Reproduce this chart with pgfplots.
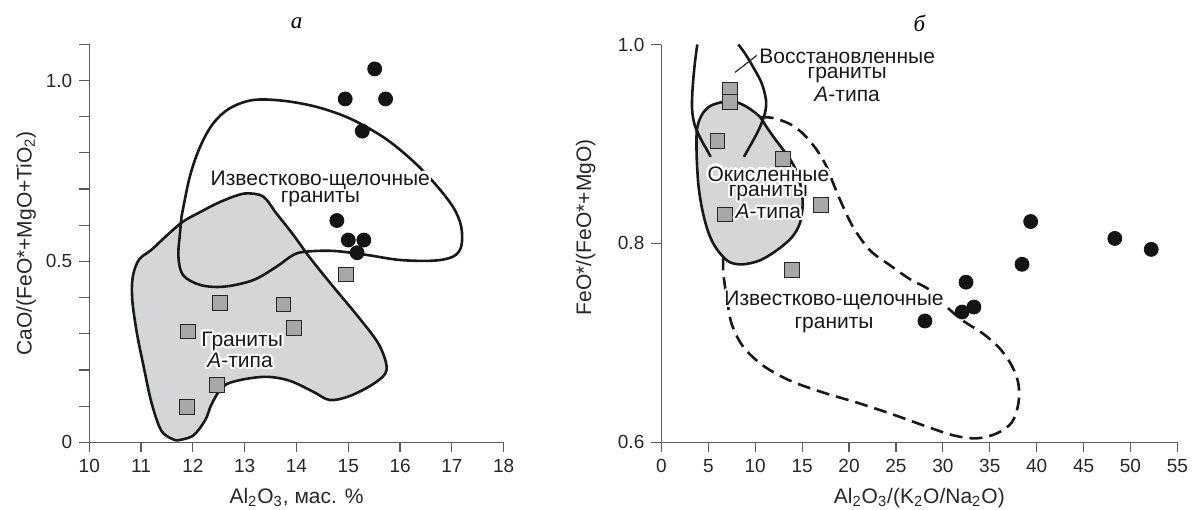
\documentclass[border=0pt]{standalone}
\usepackage{pgfplots}
\pgfplotsset{compat=1.18}
\usepackage{fontspec}
\setmainfont{Liberation Sans}
\newfontfamily\titlefont{Liberation Serif}
\definecolor{regfill}{HTML}{D5D6D8}
\definecolor{sqfill}{HTML}{A5A7A9}
\definecolor{axcol}{HTML}{5A5A5A}
\pgfplotsset{
  myaxis/.style={
    scale only axis, clip=false,
    axis x line*=bottom, axis y line*=left,
    axis line style={draw=axcol, line width=0.6pt},
    tick style={draw=axcol, line width=0.6pt},
    tick align=outside, major tick length=5pt,
    tick label style={font=\fontsize{9.5}{11}\selectfont, text=black!85},
  },
  sq/.style={only marks, mark=square*, mark size=3.7pt, mark options={fill=sqfill, draw=black!85, line width=0.5pt}},
  ci/.style={only marks, mark=*, mark size=3.5pt, mark options={fill=black!92, draw=black!92}},
  curve/.style={smooth, tension=0.55, line width=1.3pt, draw=black!90, mark=none},
}
\tikzset{lbl/.style={font=\fontsize{10.5}{12}\selectfont, inner sep=0pt}}
\newcommand\halo[2]{%
  \foreach \ang in {0,30,...,330}{\node[lbl,text=white] at ([shift={(\ang:1.1pt)}]#1) {#2};}%
  \node[lbl,text=black!90] at (#1) {#2};}

\begin{document}
\begin{tikzpicture}
\useasboundingbox (-44.65pt,-33.35pt) rectangle (552.35pt,221.15pt);
% ---------------- left panel (a)
\begin{axis}[myaxis, at={(0pt,0pt)}, anchor=south west,
  width=207.2pt, height=199pt,
  xmin=10, xmax=18, ymin=0, ymax=1.1,
  xtick={10,11,12,13,14,15,16,17,18},
  xticklabels={10,11,12,13,14,15,16,17,18},
  ytick={0,0.1,0.2,0.3,0.4,0.5,0.6,0.7,0.8,0.9,1.0,1.1},
  yticklabels={0,,,,,0.5,,,,,1.0,},
]
% A-type granites field
\addplot[curve, fill=regfill] coordinates {
(11.68,0.005) (11.40,0.030) (11.20,0.110) (11.05,0.209) (10.92,0.301) (10.83,0.393)
(10.84,0.458) (10.96,0.505) (11.20,0.532) (11.50,0.572) (11.81,0.610) (12.15,0.637)
(12.46,0.660) (12.80,0.680) (13.05,0.688) (13.36,0.679) (13.61,0.633) (13.93,0.575)
(14.26,0.510) (14.71,0.430) (15.22,0.342) (15.60,0.268) (15.74,0.200) (15.50,0.163)
(15.03,0.128) (14.64,0.117) (14.32,0.140) (13.87,0.170) (13.42,0.181) (12.91,0.172)
(12.58,0.154) (12.36,0.105) (12.24,0.062) (12.00,0.018) (11.68,0.005)};
% calc-alkaline field
\addplot[curve] coordinates {
(11.78,0.623) (11.94,0.734) (12.14,0.817) (12.39,0.881) (12.71,0.923) (13.16,0.946)
(13.74,0.944) (14.39,0.927) (15.03,0.895) (15.67,0.844) (16.19,0.785) (16.64,0.720)
(17.02,0.651) (17.18,0.596) (17.18,0.541) (17.02,0.513) (16.64,0.502) (15.99,0.504)
(15.35,0.518) (14.71,0.529) (14.19,0.527) (13.94,0.518) (13.61,0.485) (13.16,0.448)
(12.59,0.430) (12.14,0.435) (11.81,0.462) (11.72,0.513) (11.75,0.577) (11.78,0.623)};
\addplot[sq] coordinates {(14.95,0.464) (12.53,0.384) (13.75,0.381) (11.91,0.306)
  (13.95,0.315) (12.46,0.158) (11.89,0.098)};
\addplot[ci] coordinates {(15.51,1.032) (14.94,0.949) (15.72,0.949) (15.27,0.860)
  (14.78,0.613) (15.00,0.559) (15.30,0.559) (15.17,0.524)};
\coordinate (a1) at (axis cs:14.46,0.725);
\coordinate (a2) at (axis cs:14.46,0.671);
\coordinate (a3) at (axis cs:12.95,0.278);
\coordinate (a4) at (axis cs:12.91,0.226);
\end{axis}
% ---------------- right panel (b)
\begin{axis}[myaxis, at={(286.05pt,0pt)}, anchor=south west,
  width=258pt, height=198.9pt,
  xmin=0, xmax=55, ymin=0.6, ymax=1.0,
  xtick={0,5,10,15,20,25,30,35,40,45,50,55},
  xticklabels={0,5,10,15,20,25,30,35,40,45,50,55},
  ytick={0.6,0.8,1.0},
  yticklabels={0.6,0.8,1.0},
]
% oxidized A-type field
\addplot[curve, fill=regfill] coordinates {
(3.76,0.887) (3.78,0.914) (4.29,0.929) (5.18,0.938) (6.43,0.942) (7.49,0.943)
(8.56,0.940) (9.63,0.934) (10.51,0.927) (11.22,0.917) (12.11,0.905) (13.00,0.894)
(13.89,0.882) (14.50,0.870) (14.95,0.853) (15.05,0.837) (14.75,0.820) (13.89,0.806)
(12.29,0.793) (10.51,0.783) (8.73,0.779) (7.31,0.781) (6.25,0.790) (5.47,0.801)
(4.83,0.816) (4.29,0.837) (3.93,0.860) (3.76,0.887)};
% reduced A-type boundaries
\addplot[curve] coordinates {(3.83,1.000) (3.55,0.980) (3.32,0.955) (3.27,0.935)
  (3.55,0.919) (4.20,0.905) (4.80,0.895) (5.25,0.887)};
\addplot[curve] coordinates {(8.20,1.000) (8.91,0.991) (9.80,0.977) (10.69,0.961)
  (11.15,0.944) (11.04,0.931) (10.51,0.917) (9.98,0.907) (9.27,0.895) (8.80,0.887)};
\draw[line width=0.6pt, black!85] (axis cs:7.85,0.972) -- (axis cs:10.16,0.989);
% calc-alkaline field (dashed)
\addplot[curve, dash pattern=on 6.5pt off 3.5pt] coordinates {
(6.60,0.786) (6.60,0.770) (6.96,0.746) (7.49,0.719) (8.73,0.696) (10.86,0.677)
(13.71,0.662) (17.26,0.650) (20.82,0.640) (24.37,0.629) (27.93,0.617) (31.12,0.607)
(33.62,0.604) (35.75,0.609) (37.35,0.620) (38.05,0.639) (38.05,0.659) (37.35,0.677)
(36.10,0.694) (34.32,0.709) (32.19,0.722) (30.42,0.736) (28.63,0.753) (26.50,0.764)
(24.37,0.778) (22.24,0.793) (20.46,0.816) (19.22,0.840) (18.33,0.860) (17.62,0.877)
(16.56,0.894) (15.13,0.910) (13.71,0.920) (11.93,0.926) (10.51,0.927)};
\addplot[sq] coordinates {(7.30,0.954) (7.30,0.942) (5.97,0.903) (12.94,0.885)
  (17.03,0.839) (6.80,0.829) (13.90,0.773)};
\addplot[ci] coordinates {(39.36,0.822) (48.33,0.805) (52.21,0.794) (38.44,0.779)
  (32.47,0.761) (33.31,0.736) (32.05,0.731) (28.09,0.722)};
\coordinate (b1) at (axis cs:19.8,0.988);
\coordinate (b2) at (axis cs:19.8,0.969);
\coordinate (b3) at (axis cs:19.8,0.950);
\coordinate (b4) at (axis cs:11.4,0.870);
\coordinate (b5) at (axis cs:11.4,0.851);
\coordinate (b6) at (axis cs:11.4,0.832);
\coordinate (b7) at (axis cs:18.4,0.743);
\coordinate (b8) at (axis cs:18.4,0.718);
\end{axis}
% labels inside panels
\halo{a1}{Известково-щелочные}
\halo{a2}{граниты}
\halo{a3}{Граниты}
\halo{a4}{\textit{A}-типа}
\halo{b1}{Восстановленные}
\halo{b2}{граниты}
\halo{b3}{\textit{A}-типа}
\halo{b4}{Окисленные}
\halo{b5}{граниты}
\halo{b6}{\textit{A}-типа}
\halo{b7}{Известково-щелочные}
\halo{b8}{граниты}
% titles and axis labels
\node[font=\titlefont\itshape\fontsize{11.5}{13}\selectfont] at (103.7pt,209.5pt) {а};
\node[font=\titlefont\itshape\fontsize{11.5}{13}\selectfont] at (415pt,209.5pt) {б};
\node[anchor=base, font=\fontsize{10.5}{12}\selectfont, text=black!85] at (103.6pt,-30.5pt) {Al\textsubscript{2}O\textsubscript{3}, мас. \%};
\node[anchor=base, font=\fontsize{10.5}{12}\selectfont, text=black!85] at (415pt,-30.5pt) {Al\textsubscript{2}O\textsubscript{3}/(K\textsubscript{2}O/Na\textsubscript{2}O)};
\node[anchor=base, rotate=90, font=\fontsize{10.5}{12}\selectfont, text=black!85] at (-28.8pt,99.5pt) {CaO/(FeO*+MgO+TiO\textsubscript{2})};
\node[anchor=base, rotate=90, font=\fontsize{10.5}{12}\selectfont, text=black!85] at (250.9pt,107.5pt) {FeO*/(FeO*+MgO)};
\end{tikzpicture}
\end{document}
